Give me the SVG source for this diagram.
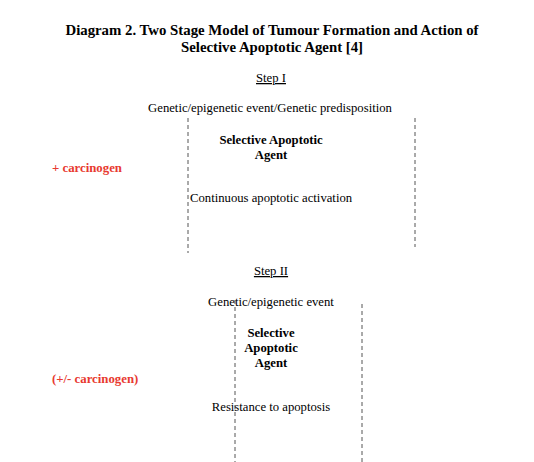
<svg xmlns="http://www.w3.org/2000/svg" width="534" height="462" viewBox="0 0 534 462">
<style>
text{font-family:"Liberation Serif","Times New Roman",serif;fill:#000}
.t{font-size:14.8px;font-weight:bold;text-anchor:middle}
.n{font-size:12.7px}
.c{text-anchor:middle}
.b{font-weight:bold}
.r{fill:#e8392f;font-weight:bold;font-size:12.8px}
.d{stroke:#555;stroke-width:1;stroke-dasharray:4,3;fill:none}
</style>
<rect width="534" height="462" fill="#fff"/>
<g id="title">
<text class="t" x="272" y="35">Diagram 2. Two Stage Model of Tumour Formation and Action of</text>
<text class="t" x="272" y="52">Selective Apoptotic Agent [4]</text>
</g>
<g id="step1">
<text class="n c" x="271" y="82" text-decoration="underline">Step I</text>
<text class="n c" x="270" y="112">Genetic/epigenetic event/Genetic predisposition</text>
<text class="n c b" x="271" y="144">Selective Apoptotic</text>
<text class="n c b" x="271" y="159">Agent</text>
<text class="r" x="52" y="172">+ carcinogen</text>
<text class="n" x="190" y="202">Continuous apoptotic activation</text>
</g>
<g id="step2">
<text class="n c" x="271" y="275" text-decoration="underline">Step II</text>
<text class="n c" x="271" y="306">Genetic/epigenetic event</text>
<text class="n c b" x="271" y="337">Selective</text>
<text class="n c b" x="271" y="352">Apoptotic</text>
<text class="n c b" x="271" y="367">Agent</text>
<text class="r" x="52" y="383">(+/- carcinogen)</text>
<text class="n c" x="271" y="411">Resistance to apoptosis</text>
</g>
<g id="connectors">
<line class="d" x1="188" y1="118" x2="188" y2="253"/>
<line class="d" x1="415" y1="118" x2="415" y2="247"/>
<line class="d" x1="235" y1="300" x2="235" y2="462"/>
<line class="d" x1="362" y1="304" x2="362" y2="462"/>
</g>
</svg>
